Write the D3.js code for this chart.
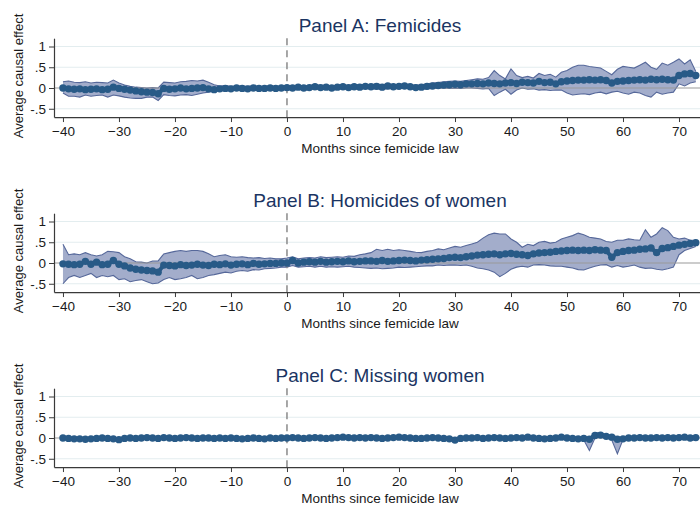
<!DOCTYPE html>
<html><head><meta charset="utf-8">
<script src="https://cdn.jsdelivr.net/npm/d3@7"></script>
<style>body{margin:0;background:#fff}svg{display:block}</style>
</head><body>
<svg id="chart" width="700" height="506"></svg>
<script>
// months -40 .. 73
const months = d3.range(-40, 74);
const xTicks = [-40,-30,-20,-10,0,10,20,30,40,50,60,70];
const yTicks = [-0.5,0,0.5,1];
const yTickLabels = ["-.5","0",".5","1"];
const titles = ["Panel A: Femicides","Panel B: Homicides of women","Panel C: Missing women"];
const xTitle = "Months since femicide law";
const yTitle = "Average causal effect";

const meanA = [0.0,-0.02,-0.03,-0.02,-0.04,-0.03,-0.02,-0.04,-0.03,0.02,
 -0.01,-0.03,-0.05,-0.07,-0.09,-0.1,-0.11,-0.14,
 -0.01,-0.03,-0.02,0.0,-0.02,-0.01,0.0,0.01,-0.02,-0.04,
 -0.02,-0.01,-0.02,0.0,-0.01,-0.02,0.0,-0.01,-0.01,0.0,-0.01,0.0,
 0.01,0.0,0.02,0.0,0.01,0.03,0.01,0.02,0.0,0.02,0.03,0.01,0.03,0.02,0.04,
 0.03,0.04,0.02,0.05,0.03,0.04,0.05,0.03,0.01,0.02,0.04,0.05,0.06,0.07,0.08,
 0.09,0.08,0.1,0.1,0.11,0.1,0.12,0.11,0.1,0.12,0.13,0.11,0.14,0.13,0.12,
 0.16,0.13,0.14,0.1,0.15,0.17,0.18,0.19,0.19,0.2,0.19,0.2,0.18,0.12,0.16,
 0.17,0.18,0.19,0.2,0.19,0.21,0.2,0.21,0.2,0.19,0.3,0.34,0.35,0.3];
const upperA = [0.15,0.17,0.14,0.13,0.15,0.12,0.14,0.13,0.12,0.19,
 0.12,0.07,0.04,0.02,0.01,0.0,0.01,0.0,
 0.14,0.13,0.12,0.15,0.16,0.18,0.17,0.19,0.14,0.08,
 0.05,0.06,0.04,0.05,0.05,0.04,0.05,0.04,0.04,0.05,0.04,0.05,
 0.06,0.05,0.07,0.05,0.06,0.08,0.06,0.07,0.05,0.07,0.08,0.06,0.09,0.07,0.09,
 0.08,0.1,0.08,0.1,0.08,0.09,0.1,0.08,0.07,0.08,0.1,0.12,0.13,0.15,0.16,
 0.17,0.16,0.18,0.2,0.22,0.21,0.25,0.42,0.3,0.22,0.46,0.3,0.25,0.28,0.24,
 0.35,0.3,0.33,0.26,0.38,0.42,0.5,0.55,0.55,0.52,0.5,0.48,0.4,0.32,0.45,
 0.52,0.5,0.48,0.55,0.62,0.5,0.45,0.6,0.55,0.62,0.7,0.58,0.68,0.4];
const lowerA = [-0.12,-0.2,-0.2,-0.22,-0.17,-0.2,-0.18,-0.17,-0.22,-0.17,
 -0.19,-0.22,-0.24,-0.25,-0.25,-0.22,-0.22,-0.3,
 -0.16,-0.18,-0.19,-0.17,-0.16,-0.18,-0.15,-0.12,-0.1,-0.08,
 -0.07,-0.06,-0.07,-0.05,-0.06,-0.07,-0.05,-0.06,-0.06,-0.05,-0.06,-0.05,
 -0.04,-0.05,-0.03,-0.05,-0.04,-0.02,-0.04,-0.03,-0.05,-0.03,-0.02,-0.04,-0.02,-0.03,-0.01,
 -0.02,-0.02,-0.04,-0.01,-0.02,-0.01,0.0,-0.02,-0.04,-0.03,-0.02,-0.01,-0.01,0.0,-0.01,
 -0.01,-0.01,0.0,0.0,-0.01,-0.02,-0.01,-0.18,-0.1,-0.03,-0.15,-0.05,0.0,-0.03,-0.02,
 -0.05,-0.04,-0.06,-0.05,-0.05,-0.12,-0.17,-0.15,-0.14,-0.16,-0.12,-0.1,-0.14,-0.1,-0.08,
 -0.12,-0.15,-0.1,-0.12,-0.18,-0.22,-0.1,-0.15,-0.12,-0.1,0.1,0.05,0.12,0.15];

const meanB = [-0.02,-0.03,-0.04,-0.03,0.04,-0.03,0.02,-0.04,-0.03,0.06,
 -0.03,-0.07,-0.12,-0.15,-0.17,-0.18,-0.19,-0.22,
 -0.05,-0.06,-0.07,-0.04,-0.06,-0.05,-0.03,-0.05,-0.06,-0.03,
 -0.04,-0.02,-0.05,-0.03,-0.02,-0.04,-0.01,-0.03,-0.02,-0.01,-0.01,0.0,
 0.0,0.06,0.0,0.02,0.03,0.02,0.04,0.02,0.03,0.04,0.03,0.05,0.03,0.04,0.05,
 0.05,0.04,0.06,0.04,0.05,0.06,0.07,0.06,0.05,0.07,0.08,0.09,0.1,0.11,0.13,
 0.14,0.13,0.15,0.17,0.19,0.2,0.21,0.22,0.2,0.22,0.23,0.21,0.2,0.18,0.22,
 0.24,0.25,0.26,0.28,0.29,0.3,0.31,0.3,0.31,0.3,0.32,0.31,0.3,0.14,0.25,
 0.28,0.3,0.31,0.33,0.34,0.36,0.25,0.35,0.37,0.4,0.43,0.45,0.47,0.49];
const upperB = [0.45,0.2,0.22,0.2,0.25,0.2,0.17,0.2,0.28,0.27,
 0.25,0.15,0.1,0.03,0.02,0.0,0.05,0.05,
 0.22,0.25,0.28,0.3,0.28,0.3,0.3,0.28,0.22,0.15,
 0.18,0.2,0.15,0.14,0.15,0.13,0.12,0.13,0.11,0.12,0.1,0.1,
 0.12,0.15,0.1,0.12,0.13,0.12,0.15,0.13,0.14,0.15,0.14,0.17,0.16,0.2,0.22,
 0.25,0.33,0.3,0.33,0.3,0.32,0.3,0.28,0.26,0.25,0.28,0.3,0.34,0.32,0.36,
 0.4,0.38,0.42,0.46,0.5,0.6,0.68,0.72,0.7,0.7,0.58,0.5,0.38,0.45,0.42,
 0.5,0.52,0.48,0.5,0.58,0.62,0.66,0.72,0.68,0.62,0.6,0.58,0.52,0.5,0.55,
 0.55,0.58,0.56,0.55,0.8,0.62,0.7,0.85,0.78,0.62,0.58,0.6,0.55,0.55];
const lowerB = [-0.5,-0.35,-0.3,-0.35,-0.3,-0.25,-0.35,-0.3,-0.33,-0.3,
 -0.4,-0.38,-0.45,-0.42,-0.4,-0.45,-0.5,-0.48,
 -0.4,-0.35,-0.4,-0.38,-0.35,-0.3,-0.38,-0.35,-0.3,-0.28,
 -0.25,-0.22,-0.24,-0.2,-0.18,-0.2,-0.16,-0.17,-0.14,-0.13,-0.12,-0.1,
 -0.1,-0.06,-0.1,-0.09,-0.08,-0.1,-0.08,-0.1,-0.09,-0.1,-0.09,-0.08,-0.1,-0.11,-0.12,
 -0.13,-0.12,-0.14,-0.13,-0.12,-0.1,-0.11,-0.1,-0.09,-0.08,-0.07,-0.07,-0.05,-0.06,-0.05,
 -0.05,-0.06,-0.05,-0.08,-0.12,-0.14,-0.17,-0.22,-0.33,-0.25,-0.15,-0.1,-0.08,-0.1,-0.05,
 -0.04,-0.05,-0.07,-0.08,-0.08,-0.1,-0.12,-0.16,-0.17,-0.12,-0.08,-0.05,-0.04,-0.1,-0.06,
 -0.1,-0.08,-0.05,-0.1,-0.13,-0.12,-0.15,-0.17,-0.14,-0.1,0.2,0.3,0.35,0.4];

const meanC = [0.0,-0.01,-0.02,-0.02,-0.03,-0.02,-0.01,0.0,-0.01,-0.02,
 -0.04,-0.01,0.0,-0.01,0.0,0.01,0.0,-0.01,
 0.01,0.0,-0.01,0.0,0.01,0.0,-0.01,0.0,0.0,-0.01,
 0.0,-0.01,0.0,-0.01,-0.02,-0.01,0.0,-0.01,-0.02,0.0,-0.01,0.0,
 0.0,0.01,0.0,-0.01,0.0,0.01,0.0,-0.01,0.0,0.01,0.02,0.01,0.0,0.01,0.0,
 0.01,0.0,-0.01,0.0,0.01,0.02,0.01,0.0,-0.01,-0.01,0.0,0.01,0.0,-0.01,-0.02,
 -0.05,-0.01,0.0,0.0,0.01,-0.01,0.0,0.01,0.0,-0.01,0.0,0.01,0.0,0.02,0.0,
 -0.01,-0.02,-0.01,0.0,0.02,0.0,-0.01,-0.02,-0.01,-0.03,0.06,0.07,0.04,0.02,-0.03,
 -0.02,0.0,0.0,0.01,0.0,0.0,0.01,0.0,0.01,0.0,0.01,0.02,0.0,0.01];
const upperC = [0.02,0.01,0.0,0.0,-0.01,0.0,0.01,0.02,0.01,0.0,
 -0.02,0.01,0.02,0.01,0.02,0.03,0.02,0.01,
 0.03,0.02,0.01,0.02,0.03,0.02,0.01,0.02,0.02,0.01,
 0.02,0.01,0.02,0.01,0.0,0.01,0.02,0.01,0.0,0.02,0.01,0.02,
 0.02,0.03,0.02,0.01,0.02,0.03,0.02,0.01,0.02,0.03,0.04,0.03,0.02,0.03,0.02,
 0.03,0.02,0.01,0.02,0.03,0.04,0.03,0.02,0.01,0.01,0.02,0.03,0.02,0.01,0.0,
 -0.02,0.01,0.02,0.02,0.03,0.01,0.02,0.03,0.02,0.01,0.02,0.03,0.02,0.04,0.02,
 0.01,0.0,0.01,0.02,0.04,0.02,0.01,0.0,0.01,0.0,0.13,0.12,0.08,0.06,0.03,
 0.0,0.02,0.02,0.03,0.02,0.02,0.03,0.02,0.03,0.02,0.04,0.06,0.05,0.05];
const lowerC = [-0.02,-0.03,-0.04,-0.04,-0.05,-0.04,-0.03,-0.02,-0.03,-0.04,
 -0.07,-0.03,-0.02,-0.03,-0.02,-0.01,-0.02,-0.03,
 -0.01,-0.02,-0.03,-0.02,-0.01,-0.02,-0.03,-0.02,-0.02,-0.03,
 -0.02,-0.03,-0.02,-0.03,-0.04,-0.03,-0.02,-0.03,-0.04,-0.02,-0.03,-0.02,
 -0.02,-0.01,-0.02,-0.03,-0.02,-0.01,-0.02,-0.03,-0.02,-0.01,0.0,-0.01,-0.02,-0.01,-0.02,
 -0.01,-0.02,-0.03,-0.02,-0.01,0.0,-0.01,-0.02,-0.03,-0.03,-0.02,-0.01,-0.02,-0.03,-0.04,
 -0.08,-0.03,-0.02,-0.02,-0.01,-0.03,-0.02,-0.01,-0.02,-0.03,-0.02,-0.01,-0.02,0.0,-0.02,
 -0.03,-0.04,-0.03,-0.02,0.0,-0.02,-0.03,-0.04,-0.05,-0.3,0.0,0.02,0.0,-0.05,-0.38,
 -0.04,-0.02,-0.02,-0.01,-0.02,-0.02,-0.01,-0.02,-0.01,-0.02,-0.02,-0.03,-0.05,-0.04];

const panels = [
  {title: titles[0], mean: meanA, upper: upperA, lower: lowerA},
  {title: titles[1], mean: meanB, upper: upperB, lower: lowerB},
  {title: titles[2], mean: meanC, upper: upperC, lower: lowerC}
];

const svg = d3.select("#chart");
const FONT = "'Liberation Sans', Arial, Helvetica, sans-serif";
const x = d3.scaleLinear().domain([-41.6, 74]).range([54, 701.4]);

panels.forEach((p, i) => {
  const z = 88 + 175 * i;
  const y = d3.scaleLinear().domain([-0.7, 1.2]).range([z + 29.05, z - 49.8]);
  const g = svg.append("g");
  const data = months.map((m, k) => ({m, mean: p.mean[k], lo: p.lower[k], hi: p.upper[k]}));

  // gridlines
  g.selectAll("line.grid").data(yTicks.filter(v => v !== 0)).join("line")
    .attr("x1", x.range()[0]).attr("x2", 700)
    .attr("y1", d => y(d)).attr("y2", d => y(d))
    .attr("stroke", "#e3edef").attr("stroke-width", 1);

  // CI band
  const area = d3.area().x(d => x(d.m)).y0(d => y(d.lo)).y1(d => y(d.hi));
  g.append("path").datum(data).attr("d", area)
    .attr("fill", "#a3adcb");
  g.append("path").datum(data).attr("d", d3.line().x(d => x(d.m)).y(d => y(d.hi)))
    .attr("fill", "none").attr("stroke", "#56689a").attr("stroke-width", 1.1);
  g.append("path").datum(data).attr("d", d3.line().x(d => x(d.m)).y(d => y(d.lo)))
    .attr("fill", "none").attr("stroke", "#56689a").attr("stroke-width", 1.1);

  // zero line
  g.append("line").attr("x1", x.range()[0]).attr("x2", 700)
    .attr("y1", y(0)).attr("y2", y(0))
    .attr("stroke", "#9a9a9a").attr("stroke-width", 1.2);

  // vertical dashed line at 0
  g.append("line").attr("x1", x(0)).attr("x2", x(0))
    .attr("y1", y(1.2)).attr("y2", y(-0.7))
    .attr("stroke", "#8a8a8a").attr("stroke-width", 1.5)
    .attr("stroke-dasharray", "7,5");

  // mean line + dots
  g.append("path").datum(data).attr("d", d3.line().x(d => x(d.m)).y(d => y(d.mean)))
    .attr("fill", "none").attr("stroke", "#285a87").attr("stroke-width", 4);
  g.selectAll("circle").data(data).join("circle")
    .attr("cx", d => x(d.m)).attr("cy", d => y(d.mean)).attr("r", 3.7)
    .attr("fill", "#285a87");

  // axes
  const ya = d3.axisLeft(y).tickValues(yTicks)
    .tickFormat((d, k) => yTickLabels[k]).tickSize(5).tickSizeOuter(0).tickPadding(3);
  const yg = g.append("g").attr("transform", `translate(${x.range()[0]},0)`).call(ya);
  const xa = d3.axisBottom(x).tickValues(xTicks).tickSize(5).tickSizeOuter(0).tickPadding(4);
  const xg = g.append("g").attr("transform", `translate(0,${y(-0.7)})`).call(xa);
  [yg, xg].forEach(a => {
    a.selectAll("path.domain").attr("stroke", "#3a3a3a").attr("stroke-width", 1.2);
    a.selectAll(".tick line").attr("stroke", "#3a3a3a");
    a.selectAll("text").attr("font-family", FONT).attr("font-size", 13.5).attr("fill", "#1a1a1a");
  });

  // titles
  g.append("text").attr("x", 380).attr("y", z - 56).attr("text-anchor", "middle")
    .attr("font-family", FONT).attr("font-size", 19).attr("fill", "#1a3462").text(p.title);
  g.append("text").attr("x", 380).attr("y", y(-0.7) + 36).attr("text-anchor", "middle")
    .attr("font-family", FONT).attr("font-size", 13.5).attr("fill", "#1a1a1a").text(xTitle);
  g.append("text").attr("transform", `translate(23,${z - 12}) rotate(-90)`)
    .attr("text-anchor", "middle").attr("font-family", FONT).attr("font-size", 13)
    .attr("fill", "#1a1a1a").text(yTitle);
});
</script>
</body></html>
